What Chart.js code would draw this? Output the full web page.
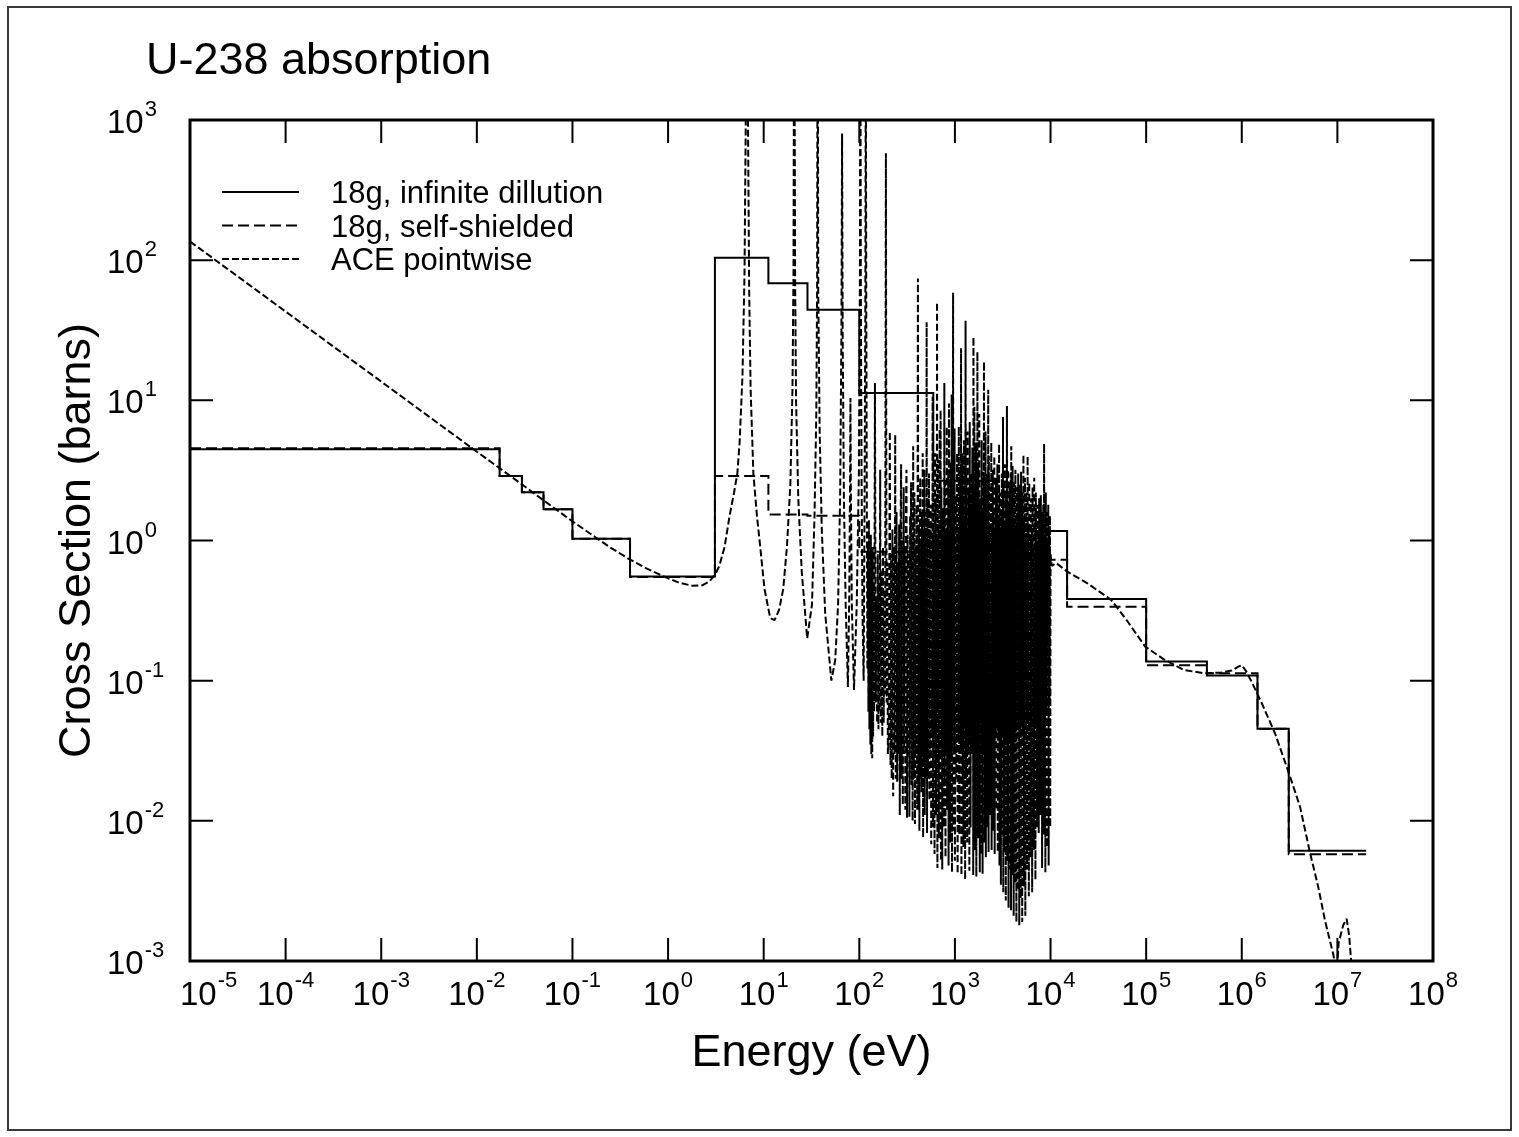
<!DOCTYPE html>
<html>
<head>
<meta charset="utf-8">
<title>U-238 absorption</title>
<script src="https://cdn.jsdelivr.net/npm/chart.js@4.4.1/dist/chart.umd.min.js"></script>
<style>
  html, body { margin: 0; padding: 0; background: #fff; }
  canvas { display: block; }
</style>
</head>
<body>
<canvas id="xs-chart" width="1519" height="1137"></canvas>
<script>
// Group structure (eV) and group-averaged absorption cross sections (barns)
const groupEdges = [1e-5, 0.0173, 0.0296, 0.0498, 0.1, 0.4, 3.09, 11.2, 28.7, 100, 594, 2720, 14900, 1e5, 4.32e5, 1.46e6, 3.1e6, 2.0e7];
const infiniteDilution = [4.47, 2.88, 2.21, 1.67, 1.03, 0.553, 104, 68.4, 44.2, 11.3, 2.67, 1.17, 0.383, 0.137, 0.109, 0.0454, 0.00612];
const selfShielded = [4.55, 2.88, 2.21, 1.67, 1.03, 0.548, 2.88, 1.53, 1.50, 0.83, 0.78, 0.73, 0.337, 0.129, 0.113, 0.0454, 0.00577];

// Pointwise (ACE) absorption, [energy eV, barns]
const aceThermal = [
  [1e-5, 136], [1e-4, 43], [1e-3, 13.6], [0.01, 4.3], [0.0253, 2.72], [0.05, 1.93], [0.1, 1.37],
  [0.172, 1.06], [0.25, 0.89], [0.387, 0.74], [0.6, 0.63], [0.87, 0.56], [1.3, 0.5], [1.8, 0.475],
  [2.3, 0.48], [2.7, 0.51], [3.1, 0.57], [3.44, 0.66], [3.9, 0.9], [4.4, 1.5], [4.9, 2.2], [5.3, 3.0]
];
const aceLowResonances = [
  [5.6, 5.0], [6.0, 15], [6.3, 80], [6.55, 2000], [6.67, 20000], [6.8, 2000], [7.05, 60], [7.3, 12],
  [7.8, 3.0], [8.5, 1.5], [9.2, 0.9], [10.2, 0.45], [11.7, 0.28], [13, 0.27], [14.5, 0.32], [16, 0.45],
  [17.5, 0.9], [19, 2.5], [20, 12], [20.5, 80], [20.87, 20000], [21.3, 80], [21.8, 10], [23, 2],
  [25, 0.6], [28.5, 0.2], [32, 0.35], [34, 1.5], [35.5, 8], [36.2, 60], [36.68, 20000], [37.2, 60],
  [38.5, 6], [40.5, 1.2], [44, 0.3], [51, 0.1], [56, 0.14], [60, 0.35], [63, 2], [65, 30],
  [66.03, 800], [67, 30], [69, 2], [72, 0.35], [76, 0.09], [78.5, 0.4], [80, 2.5], [80.75, 10.4],
  [81.5, 2.5], [83.5, 0.35], [88, 0.086], [94, 0.35], [99, 3], [101.5, 80], [102.56, 20000],
  [103.6, 80], [105.5, 3], [108, 0.3], [111, 0.1], [113.5, 2], [115.5, 40], [116.9, 5000], [118.3, 40]
];
const aceResolved = [
  [120, 1.5], [121.5, 0.12], [123, 0.9], [124.5, 0.06], [126, 1.4], [127.5, 0.045], [129, 0.7],
  [130.5, 0.035], [132, 1.1], [133.5, 0.03], [135, 0.6], [136.5, 0.028], [138, 0.9], [139.5, 0.04],
  [141, 0.5], [143, 0.06], [145.7, 13.3], [148.5, 0.07], [151, 0.4], [153.5, 0.05], [156, 0.8],
  [158.5, 0.045], [161, 0.5], [163, 0.06], [165.3, 3.2], [168, 0.05], [171, 0.6], [174, 0.04],
  [177, 0.9], [180, 0.05], [183, 0.45], [186, 0.08], [189.7, 580], [193, 0.07], [196, 0.7], [199, 0.03],
  [203, 0.04], [208.5, 6], [212, 0.025], [215, 0.8], [218, 0.02], [222, 1.2], [226, 0.015], [230, 0.9],
  [233.5, 0.03], [237.4, 5.7], [241, 0.02], [245, 1.6], [249, 0.019], [253, 0.7], [257, 0.03], [261, 1.3],
  [265, 0.011], [269, 0.8], [273.7, 3.5], [277.5, 0.02], [281, 1.0], [285, 0.013], [291, 2.4], [295, 0.03],
  [299, 0.9], [303, 0.012], [307, 1.4], [311.4, 3.2], [315.5, 0.0105], [320, 1.1], [325, 0.03], [330, 0.8],
  [334, 0.0107], [340, 1.5], [343, 0.04], [347.8, 2.6], [352, 0.018], [357, 1.0], [361, 0.01], [366, 4.7],
  [371, 0.02], [376.9, 2.2], [382, 0.0095], [388, 0.9], [392.5, 0.03], [397.6, 1.8], [403, 0.012],
  [410.2, 74], [415, 0.012], [420, 1.3], [425, 0.0085], [429, 0.9], [434, 2.8], [438.5, 0.02], [443, 1.0],
  [448, 0.016], [453, 1.6], [456, 0.03], [460, 4.2], [465, 0.0076], [470, 1.1], [474, 0.025], [478.3, 3.2],
  [483, 0.011], [489, 1.2], [494, 0.02], [500, 1.6], [503, 0.05], [506, 36], [511, 0.0082], [518.5, 1.8],
  [523, 0.02], [529, 1.0], [535.3, 3.0], [541, 0.014], [547, 1.2], [553, 0.03], [559, 1.8], [565, 0.0068],
  [572, 1.1], [578, 0.04], [584.5, 10.6], [590, 0.009], [594.8, 2.6], [600, 0.025], [606, 1.2], [612, 0.0058],
  [619.9, 4.2], [624, 0.04], [628.4, 2.0], [634, 0.011], [640, 1.1], [645, 0.06], [650, 50], [656, 0.0046],
  [661.2, 3.8], [667, 0.02], [673, 1.3], [679, 0.0075], [686, 1.0], [693.1, 6.2], [700, 0.03], [708.4, 8.5],
  [714, 0.0052], [721.6, 2.4], [726, 0.05], [730.1, 1.2], [737, 0.0045], [745, 1.7], [752, 0.03], [758, 1.0],
  [765, 0.009], [775, 13.3], [782, 0.02], [790, 2.6], [797, 0.0055], [805, 1.2], [812, 0.03], [821.5, 6.5],
  [829, 0.012], [837, 1.4], [844, 0.04], [851, 3.2], [858, 0.0048], [866, 9.5], [874, 0.03], [883, 1.2],
  [890, 0.007], [897, 1.8], [905, 3.6], [912, 0.03], [918, 1.0], [925, 11], [932, 0.0043], [937, 2.3],
  [944, 0.05], [950, 1.1], [957, 58.6], [965, 0.0085], [975, 1.5], [983, 0.03], [991.7, 6.3], [999, 0.0052],
  [1023, 2.1], [1035, 0.02], [1054, 4.2], [1067, 0.0042], [1080, 1.2], [1089, 0.04], [1098, 6.5], [1112, 0.008],
  [1131, 1.6], [1140, 3.2], [1150, 0.03], [1159, 23.5], [1170, 0.0041], [1178, 1.1], [1195, 4.2], [1203, 0.02],
  [1211, 2.0], [1228, 0.0065], [1245, 5.2], [1256, 0.05], [1266, 1.4], [1279, 0.0038], [1292, 37], [1304, 0.02],
  [1316, 3.0], [1325, 0.04], [1334, 1.2], [1345, 0.007], [1355, 6.0], [1373, 0.03], [1391, 2.4], [1398, 0.05],
  [1405, 1.1], [1416, 0.0044], [1428, 7.0], [1436, 0.04], [1444, 1.6], [1458, 0.009], [1473, 3.0], [1497, 0.03],
  [1522, 4.6], [1534, 0.05], [1546, 1.3], [1554, 0.0041], [1562, 28.4], [1580, 0.02], [1598, 9.0], [1610, 0.05],
  [1622, 1.7], [1630, 0.0062], [1638, 2.6], [1650, 0.03], [1662, 5.0], [1675, 0.004], [1688, 1.2], [1698, 0.05],
  [1709, 3.3], [1714, 0.06], [1718, 22.2], [1736, 0.0075], [1755, 3.5], [1768, 0.03], [1782, 1.4], [1790, 0.06],
  [1797, 8.0], [1820, 0.0043], [1845, 2.0], [1858, 0.05], [1871, 1.1], [1886, 0.0058], [1902, 5.2], [1915, 0.03],
  [1927, 1.5], [1947, 0.0042], [1968, 3.1], [1990, 0.03], [2013, 18.9], [2022, 0.05], [2030, 1.3], [2045, 0.007],
  [2060, 2.6], [2075, 0.04], [2089, 6.0], [2106, 0.0055], [2123, 1.4], [2136, 0.04], [2150, 3.0], [2168, 0.009],
  [2185, 1.1], [2207, 0.05], [2230, 11.9], [2248, 0.006], [2265, 4.0], [2282, 0.04], [2300, 1.2], [2325, 0.011],
  [2350, 2.4], [2375, 0.05], [2400, 5.0], [2420, 0.0062], [2440, 1.3], [2465, 0.04], [2490, 3.2], [2515, 0.0085],
  [2540, 1.6], [2560, 0.05], [2580, 4.0], [2605, 0.0058], [2630, 1.2], [2655, 0.04], [2680, 2.8], [2705, 0.012],
  [2730, 1.1], [2755, 0.05], [2780, 3.5], [2805, 0.006], [2830, 1.4], [2862, 0.04], [2897, 4.9], [2923, 0.0048],
  [2950, 2.2], [2975, 0.04], [3000, 1.2], [3025, 0.0035], [3050, 1.5], [3075, 0.04], [3100, 3.0], [3120, 0.008],
  [3140, 1.1], [3160, 0.05], [3183, 7.6], [3205, 0.0031], [3230, 2.4], [3255, 0.04], [3280, 1.3], [3305, 0.006],
  [3330, 3.5], [3355, 0.05], [3380, 1.0], [3405, 0.0027], [3430, 2.2], [3465, 0.04], [3499, 9.1], [3530, 0.0052],
  [3560, 1.8], [3585, 0.05], [3610, 3.2], [3635, 0.0024], [3660, 1.2], [3690, 0.04], [3720, 2.6], [3750, 0.0045],
  [3780, 1.0], [3805, 0.05], [3830, 3.0], [3857, 0.0023], [3884, 4.7], [3917, 0.04], [3950, 1.4], [3980, 0.0041],
  [4010, 3.4], [4045, 0.05], [4080, 1.1], [4115, 0.0021], [4150, 2.6], [4185, 0.04], [4220, 1.3], [4255, 0.0036],
  [4290, 3.2], [4325, 0.05], [4360, 1.0], [4395, 0.0019], [4430, 2.4], [4470, 0.04], [4510, 1.5], [4550, 0.0032],
  [4590, 3.0], [4630, 0.05], [4670, 1.0], [4710, 0.0018], [4750, 2.5], [4790, 0.04], [4830, 1.2], [4875, 0.0028],
  [4920, 3.1], [4965, 0.05], [5010, 1.1], [5055, 0.0019], [5100, 2.2], [5150, 0.04], [5206, 4.1], [5250, 0.0034],
  [5300, 1.4], [5350, 0.05], [5400, 2.8], [5450, 0.0021], [5500, 1.0], [5550, 0.04], [5600, 2.2], [5680, 0.0045],
  [5757, 4.0], [5810, 0.05], [5870, 1.3], [5930, 0.0029], [5990, 2.6], [6050, 0.04], [6110, 1.0], [6170, 0.0055],
  [6230, 2.0], [6295, 0.05], [6360, 1.2], [6425, 0.0031], [6490, 2.4], [6555, 0.04], [6620, 0.9], [6685, 0.0062],
  [6750, 2.8], [6815, 0.05], [6880, 1.6], [6950, 0.0038], [7020, 2.2], [7090, 0.05], [7160, 0.9], [7230, 0.009],
  [7300, 1.8], [7375, 0.04], [7450, 1.1], [7525, 0.0082], [7600, 2.0], [7675, 0.06], [7750, 0.9], [7830, 0.011],
  [7915, 2.1], [7995, 0.05], [8080, 1.6], [8160, 0.0046], [8240, 1.0], [8320, 0.06], [8400, 1.8], [8480, 0.008],
  [8562, 4.9], [8650, 0.05], [8740, 1.1], [8830, 0.0043], [8920, 2.2], [9010, 0.06], [9100, 1.0], [9190, 0.0065],
  [9280, 1.6], [9375, 0.06], [9470, 1.8], [9560, 0.0048], [9650, 1.2], [9750, 0.07], [9850, 1.5], [9925, 0.009],
  [10000, 0.8]
];
const aceFast = [
  [10300, 0.66], [11500, 0.69], [14900, 0.6], [24300, 0.495], [43000, 0.377], [62400, 0.271], [97700, 0.175],
  [153000, 0.142], [249000, 0.119], [407000, 0.113], [600000, 0.114], [783000, 0.118], [920000, 0.126],
  [1.0e6, 0.129], [1.1e6, 0.118], [1.27e6, 0.098], [1.62e6, 0.069], [2.23e6, 0.042], [3.2e6, 0.0207],
  [4.07e6, 0.0126], [5.19e6, 0.00586], [6.3e6, 0.00339], [7.4e6, 0.00196], [9.1e6, 0.0011], [9.8e6, 0.0008],
  [1.03e7, 0.00134], [1.15e7, 0.0018], [1.25e7, 0.002], [1.33e7, 0.0015], [1.41e7, 0.0009], [1.6e7, 0.0006],
  [2.0e7, 0.0005]
];

// Decade ticks, labelled 10^n
const xTickExponents = [-5, -4, -3, -2, -1, 0, 1, 2, 3, 4, 5, 6, 7, 8];
const yTickExponents = [-3, -2, -1, 0, 1, 2, 3];

const FONT = '"Liberation Sans", Arial, Helvetica, sans-serif';
const TICK_LEN = 23;
const SUP_GAP = 1;

function toPoints(pairs) {
    return pairs.map(([x, y]) => ({ x, y }));
}

function groupPoints(edges, values) {
    const pts = values.map((v, i) => ({ x: edges[i], y: v }));
    pts.push({ x: edges[edges.length - 1], y: values[values.length - 1] });
    return pts;
}

function exponentOf(value) {
    return Math.round(Math.log10(value));
}

function drawPower(ctx, exponent, left, baseY, supY) {
    ctx.font = `33px ${FONT}`;
    ctx.fillText('10', left, baseY);
    const wb = ctx.measureText('10').width;
    ctx.font = `22px ${FONT}`;
    ctx.fillText(String(exponent), left + wb + SUP_GAP, supY);
}

function powerWidth(ctx, exponent) {
    ctx.font = `33px ${FONT}`;
    const wb = ctx.measureText('10').width;
    ctx.font = `22px ${FONT}`;
    return wb + SUP_GAP + ctx.measureText(String(exponent)).width;
}

const plotDecorations = {
    id: 'plotDecorations',
    beforeDraw(chart) {
        const { ctx, width, height } = chart;
        ctx.save();
        ctx.fillStyle = '#ffffff';
        ctx.fillRect(0, 0, width, height);
        ctx.strokeStyle = '#3a3a3a';
        ctx.lineWidth = 2;
        ctx.strokeRect(8, 7, 1503, 1123);
        ctx.restore();
    },
    afterDraw(chart) {
        const { ctx, chartArea: a, scales } = chart;
        const xs = scales.x;
        const ys = scales.y;
        ctx.save();
        ctx.strokeStyle = '#000';
        ctx.fillStyle = '#000';

        // inward tick marks on all four sides
        ctx.lineWidth = 2;
        ctx.setLineDash([]);
        ctx.beginPath();
        xs.ticks.forEach((t) => {
            const px = xs.getPixelForValue(t.value);
            ctx.moveTo(px, a.bottom);
            ctx.lineTo(px, a.bottom - TICK_LEN);
            ctx.moveTo(px, a.top);
            ctx.lineTo(px, a.top + TICK_LEN);
        });
        ys.ticks.forEach((t) => {
            const py = ys.getPixelForValue(t.value);
            ctx.moveTo(a.left, py);
            ctx.lineTo(a.left + TICK_LEN, py);
            ctx.moveTo(a.right, py);
            ctx.lineTo(a.right - TICK_LEN, py);
        });
        ctx.stroke();

        // axis box
        ctx.lineWidth = 3;
        ctx.strokeRect(a.left, a.top, a.right - a.left, a.bottom - a.top);

        // tick labels
        ctx.textAlign = 'left';
        ctx.textBaseline = 'alphabetic';
        xs.ticks.forEach((t) => {
            const px = xs.getPixelForValue(t.value);
            const exp = exponentOf(t.value);
            const w = powerWidth(ctx, exp);
            const left = Math.max(px - w / 2, a.left - 10);
            drawPower(ctx, exp, left, a.bottom + 44, a.bottom + 26);
        });
        ys.ticks.forEach((t) => {
            const py = ys.getPixelForValue(t.value);
            drawPower(ctx, exponentOf(t.value), 107, py + 13, py - 4);
        });

        // title and axis titles
        ctx.font = `45px ${FONT}`;
        ctx.fillText('U-238 absorption', 146, 74);

        ctx.textAlign = 'center';
        ctx.fillText('Energy (eV)', (a.left + a.right) / 2, 1066);

        ctx.save();
        ctx.translate(90, (a.top + a.bottom) / 2);
        ctx.rotate(-Math.PI / 2);
        ctx.fillText('Cross Section (barns)', 0, 0);
        ctx.restore();

        // legend inside the plot, samples use each dataset's own line style
        ctx.textAlign = 'left';
        ctx.font = `31px ${FONT}`;
        chart.data.datasets.forEach((ds, i) => {
            const y = 192 + i * 33.5;
            ctx.lineWidth = ds.borderWidth;
            ctx.setLineDash(ds.borderDash || []);
            ctx.beginPath();
            ctx.moveTo(222, y);
            ctx.lineTo(299, y);
            ctx.stroke();
            ctx.setLineDash([]);
            ctx.fillText(ds.label, 331, y + 11);
        });
        ctx.restore();
    }
};

new Chart(document.getElementById('xs-chart'), {
    type: 'line',
    data: {
        datasets: [
            {
                label: '18g, infinite dillution',
                data: groupPoints(groupEdges, infiniteDilution),
                stepped: true,
                borderColor: '#000',
                borderWidth: 2,
                pointRadius: 0,
            },
            {
                label: '18g, self-shielded',
                data: groupPoints(groupEdges, selfShielded),
                stepped: true,
                borderColor: '#000',
                borderWidth: 2,
                borderDash: [11, 5],
                pointRadius: 0,
            },
            {
                label: 'ACE pointwise',
                data: toPoints([...aceThermal, ...aceLowResonances, ...aceResolved, ...aceFast]),
                borderColor: '#000',
                borderWidth: 2,
                borderDash: [7, 3],
                borderJoinStyle: 'bevel',
                pointRadius: 0,
                tension: 0,
            },
        ],
    },
    options: {
        responsive: false,
        devicePixelRatio: 1,
        animation: false,
        events: [],
        layout: { padding: { left: 190, top: 120, right: 86, bottom: 176 } },
        plugins: {
            legend: { display: false },
            tooltip: { enabled: false },
        },
        scales: {
            x: {
                type: 'logarithmic',
                display: false,
                min: 1e-5,
                max: 1e8,
                ticks: { autoSkip: false },
                afterBuildTicks: (scale) => {
                    scale.ticks = xTickExponents.map((e) => ({ value: Math.pow(10, e) }));
                },
            },
            y: {
                type: 'logarithmic',
                display: false,
                min: 1e-3,
                max: 1e3,
                ticks: { autoSkip: false },
                afterBuildTicks: (scale) => {
                    scale.ticks = yTickExponents.map((e) => ({ value: Math.pow(10, e) }));
                },
            },
        },
    },
    plugins: [plotDecorations],
});
</script>
</body>
</html>
